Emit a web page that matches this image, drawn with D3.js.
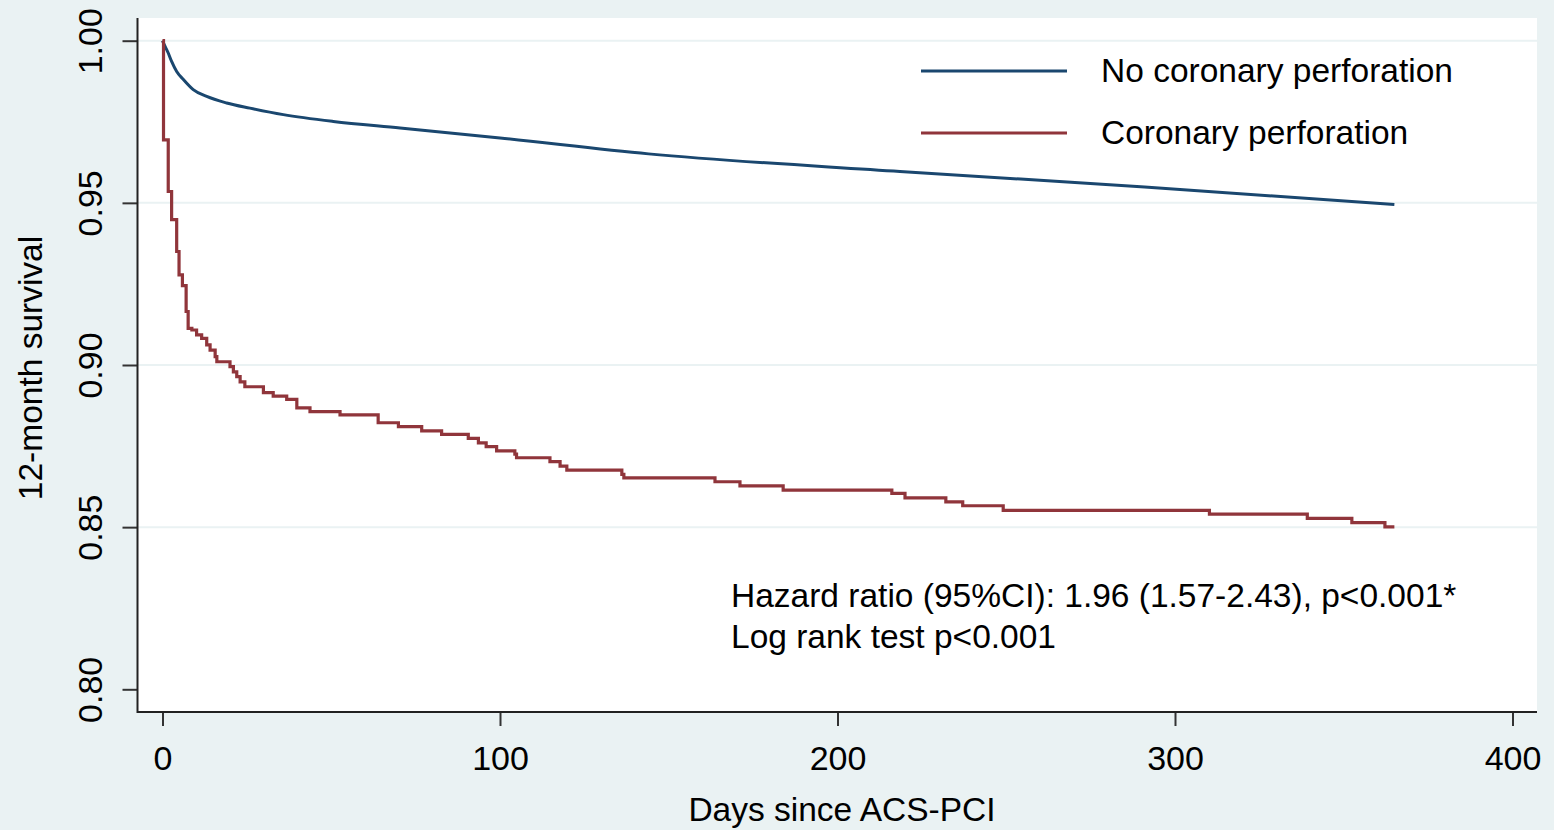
<!DOCTYPE html>
<html>
<head>
<meta charset="utf-8">
<script src="https://cdn.jsdelivr.net/npm/d3@7"></script>
<style>
  body { margin: 0; background: #eaf2f3; }
  #vis { width: 1554px; height: 830px; }
  text { font-family: "Liberation Sans", Arial, sans-serif; fill: #000; }
</style>
</head>
<body>
<div id="vis"></div>
<script>
var xTicks = [0, 100, 200, 300, 400];
var yTicks = [0.80, 0.85, 0.90, 0.95, 1.00];
var gridTicks = [0.85, 0.90, 0.95, 1.00];

var seriesNames = ["No coronary perforation", "Coronary perforation"];

// no perforation (smooth KM curve)
var blueDays = [0, 0.8, 1.7, 2.7, 4.2, 6.2, 9.1, 13.1, 19, 25.9, 35.8, 50.6, 70.4, 100, 144, 218.5, 291, 365];
var blueSurv = [1.0, 0.9982, 0.9962, 0.9936, 0.9905, 0.9880, 0.9849, 0.9828, 0.9808, 0.9792, 0.9772, 0.9751, 0.9731, 0.9700, 0.9651, 0.9597, 0.9549, 0.9495];

// perforation (step KM curve)
var redDays = [0, 0.3, 1.7, 2.7, 4.2, 4.9, 5.9, 7.0, 7.6, 8.7,
  10.1, 11.6, 13.1, 14.1, 15.6, 16.1, 20.0, 21.0, 22.0, 23.0,
  24.4, 29.9, 32.8, 36.8, 39.8, 43.7, 52.6, 63.9, 69.9, 76.8,
  82.7, 90.6, 93.6, 95.9, 99.0, 104.4, 104.9, 114.8, 117.8, 119.8,
  136.1, 136.7, 163.7, 171.1, 183.9, 216.1, 220.0, 232.1, 237.1, 249.1,
  310.2, 339.2, 352.4, 362.2, 365];
var redSurv = [1.000, 0.9694, 0.9535, 0.9448, 0.9350, 0.9278, 0.9245, 0.9165, 0.9113, 0.9108,
  0.9093, 0.9082, 0.9062, 0.9046, 0.9026, 0.9010, 0.8995, 0.8979, 0.8964, 0.8948,
  0.8933, 0.8915, 0.8904, 0.8894, 0.8868, 0.8856, 0.8846, 0.8822, 0.8810, 0.8797,
  0.8786, 0.8774, 0.8760, 0.8748, 0.8735, 0.8725, 0.8714, 0.8702, 0.8688, 0.8676,
  0.8663, 0.8652, 0.8640, 0.8627, 0.8614, 0.8604, 0.8590, 0.8578, 0.8566, 0.8552,
  0.8540, 0.8527, 0.8514, 0.8501, 0.8501];

var colours = ["#1a476f", "#90353b"];

var width = 1554;
var height = 830;

var plot = { left: 137.5, right: 1537, top: 18, bottom: 712 };

var svg = d3.select('#vis')
  .append('svg')
  .attr('width', width)
  .attr('height', height);

svg.append('rect')
  .attr('width', width)
  .attr('height', height)
  .attr('fill', '#eaf2f3');

svg.append('rect')
  .attr('x', plot.left)
  .attr('y', plot.top)
  .attr('width', plot.right - plot.left)
  .attr('height', plot.bottom - plot.top)
  .attr('fill', '#ffffff');

var x_scale = d3.scaleLinear()
  .domain([0, 400])
  .range([162.5, 1512.5]);

var y_scale = d3.scaleLinear()
  .domain([0.80, 1.00])
  .range([689.3, 40.7]);

// grid
svg.append('g')
  .selectAll('line')
  .data(gridTicks)
  .enter()
  .append('line')
  .attr('x1', plot.left)
  .attr('x2', plot.right)
  .attr('y1', function(d) { return y_scale(d); })
  .attr('y2', function(d) { return y_scale(d); })
  .attr('stroke', '#eaf2f3')
  .attr('stroke-width', 2);

var blue = blueDays.map(function(d, i) { return [d, blueSurv[i]]; });
var red = redDays.map(function(d, i) { return [d, redSurv[i]]; });

var smoothLine = d3.line()
  .x(function(d) { return x_scale(d[0]); })
  .y(function(d) { return y_scale(d[1]); })
  .curve(d3.curveMonotoneX);

var stepLine = d3.line()
  .x(function(d) { return x_scale(d[0]); })
  .y(function(d) { return y_scale(d[1]); })
  .curve(d3.curveStepAfter);

svg.append('path')
  .datum(blue)
  .attr('d', smoothLine)
  .attr('fill', 'none')
  .attr('stroke', colours[0])
  .attr('stroke-width', 3);

svg.append('path')
  .datum(red)
  .attr('d', stepLine)
  .attr('fill', 'none')
  .attr('stroke', colours[1])
  .attr('stroke-width', 3.2);

// axes
var x_axis = d3.axisBottom(x_scale)
  .tickValues(xTicks)
  .tickSize(14)
  .tickPadding(12)
  .tickSizeOuter(0)
  .tickFormat(d3.format('d'));

var y_axis = d3.axisLeft(y_scale)
  .tickValues(yTicks)
  .tickSize(15)
  .tickSizeOuter(0)
  .tickFormat(d3.format('.2f'));

var gx = svg.append('g')
  .attr('transform', 'translate(0,' + plot.bottom + ')')
  .call(x_axis);
gx.select('.domain').remove();
gx.selectAll('line').attr('stroke', '#333').attr('stroke-width', 2);
gx.selectAll('text')
  .style('font-size', '34px')
  .style('font-family', '"Liberation Sans", Arial, sans-serif')
  .attr('fill', '#000')
  .attr('dy', '0.95em');

var gy = svg.append('g')
  .attr('transform', 'translate(' + plot.left + ',0)')
  .call(y_axis);
gy.select('.domain').remove();
gy.selectAll('line').attr('stroke', '#333').attr('stroke-width', 2);
gy.selectAll('text')
  .style('font-size', '34px')
  .style('font-family', '"Liberation Sans", Arial, sans-serif')
  .attr('fill', '#000')
  .attr('text-anchor', 'middle')
  .attr('dy', 0)
  .attr('x', 0)
  .attr('transform', function(d) { return 'translate(-36,0)rotate(-90)'; });

svg.append('line')
  .attr('x1', plot.left)
  .attr('x2', plot.left)
  .attr('y1', plot.top)
  .attr('y2', plot.bottom + 1)
  .attr('stroke', '#222')
  .attr('stroke-width', 2);

svg.append('line')
  .attr('x1', plot.left)
  .attr('x2', plot.right)
  .attr('y1', plot.bottom)
  .attr('y2', plot.bottom)
  .attr('stroke', '#222')
  .attr('stroke-width', 2);

// axis titles
svg.append('text')
  .text('Days since ACS-PCI')
  .attr('x', 842)
  .attr('y', 821)
  .attr('text-anchor', 'middle')
  .style('font-size', '33.5px');

svg.append('text')
  .text('12-month survival')
  .attr('text-anchor', 'middle')
  .attr('transform', 'translate(42,368)rotate(-90)')
  .style('font-size', '33.5px');

// legend
var legend = svg.append('g')
  .selectAll('g')
  .data(seriesNames)
  .enter()
  .append('g')
  .attr('transform', function(d, i) { return 'translate(0,' + (71 + i * 62) + ')'; });

legend.append('line')
  .attr('x1', 921)
  .attr('x2', 1067)
  .attr('stroke', function(d, i) { return colours[i]; })
  .attr('stroke-width', 3);

legend.append('text')
  .text(function(d) { return d; })
  .attr('x', 1101)
  .attr('y', 11)
  .style('font-size', '33.5px');

// annotation
svg.append('text')
  .text('Hazard ratio (95%CI): 1.96 (1.57-2.43), p<0.001*')
  .attr('x', 731)
  .attr('y', 607)
  .style('font-size', '33.5px');

svg.append('text')
  .text('Log rank test p<0.001')
  .attr('x', 731)
  .attr('y', 648)
  .style('font-size', '33.5px');
</script>
</body>
</html>
